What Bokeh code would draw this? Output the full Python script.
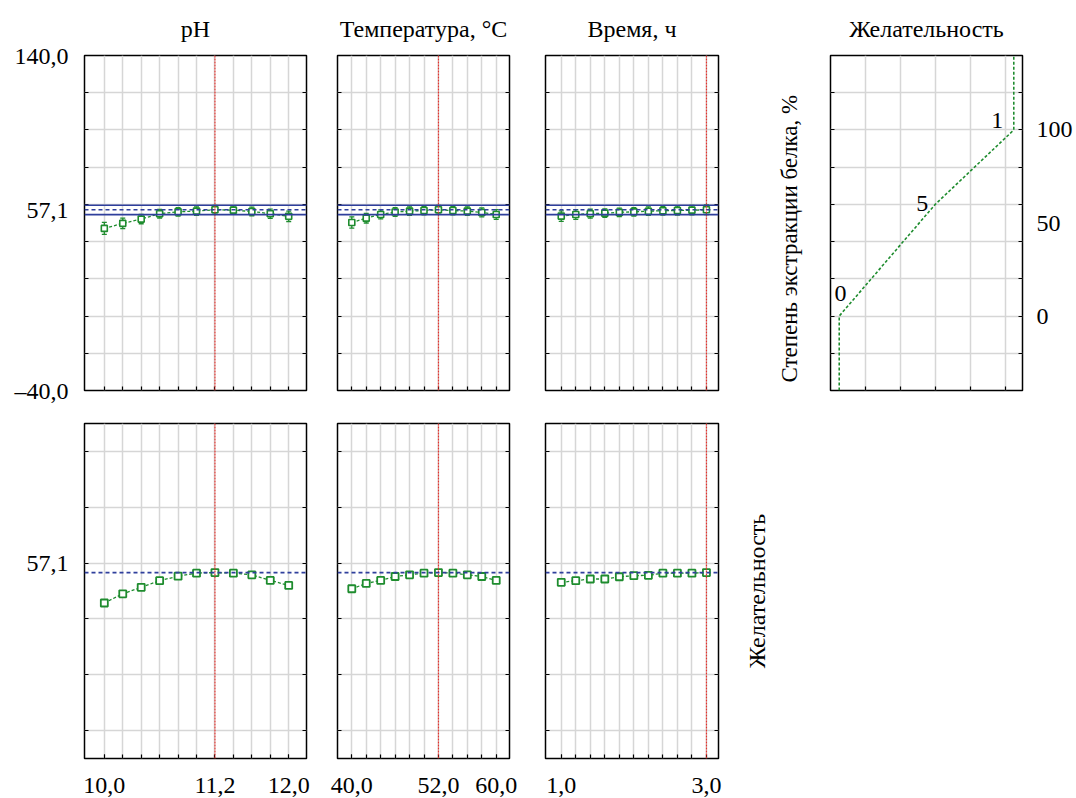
from bokeh.plotting import figure
from bokeh.layouts import row, column
from bokeh.models import (FixedTicker, LinearAxis, Span, Range1d, Whisker, ColumnDataSource,
                          CustomJSTickFormatter, Grid, TeeHead, Title)
from bokeh.core.properties import value
from bokeh.embed import file_html
from bokeh.resources import INLINE

# ---------------- data ----------------
ph = [10.0, 10.2, 10.4, 10.6, 10.8, 11.0, 11.2, 11.4, 11.6, 11.8, 12.0]
temp = [40.0, 42.0, 44.0, 46.0, 48.0, 50.0, 52.0, 54.0, 56.0, 58.0, 60.0]
time_h = [1.0, 1.2, 1.4, 1.6, 1.8, 2.0, 2.2, 2.4, 2.6, 2.8, 3.0]

ext_ph = [47.1, 49.8, 52.1, 55.0, 56.0, 56.4, 57.1, 56.9, 56.2, 55.0, 53.6]
err_ph = [3.2, 2.8, 2.5, 2.3, 2.3, 2.3, 2.3, 2.3, 2.3, 2.5, 2.8]
ext_temp = [50.3, 52.6, 54.6, 55.9, 56.4, 56.7, 57.1, 56.7, 56.4, 55.7, 54.6]
err_temp = [3.0, 2.6, 2.4, 2.3, 2.3, 2.3, 2.3, 2.3, 2.3, 2.4, 2.6]
ext_time = [53.7, 54.6, 55.0, 55.3, 55.7, 56.0, 56.35, 56.6, 56.7, 56.9, 57.1]
err_time = [2.8, 2.6, 2.4, 2.3, 2.3, 2.3, 2.3, 2.3, 2.4, 2.5, 2.6]

des_ph = [0.457, 0.490, 0.513, 0.537, 0.553, 0.564, 0.566, 0.564, 0.558, 0.538, 0.520]
des_temp = [0.508, 0.527, 0.538, 0.552, 0.558, 0.564, 0.566, 0.564, 0.558, 0.552, 0.538]
des_time = [0.531, 0.537, 0.543, 0.543, 0.551, 0.555, 0.556, 0.564, 0.564, 0.564, 0.566]

pred_ext = 57.1
ci_low, ci_high = 54.5, 59.5
des_max = 0.566
cur_ph, cur_temp, cur_time = 11.2, 52.0, 3.0

ph_labels = [10.0, 11.2, 12.0]
temp_labels = [40.0, 52.0, 60.0]
time_labels = [1.0, 3.0]
ext_labels = [-40.0, 57.1, 140.0]
ext_grid = [-40, -20, 0, 20, 40, 60, 80, 100, 120, 140]
des_grid = [0.0, 0.2, 0.4, 0.6, 0.8, 1.0]
des_label_tick = [0.6]

# desirability function (desirability vs extraction)
dfun_d = [0.0, 0.0, 0.55, 1.0, 1.0]
dfun_ext = [-40.0, 0.0, 60.0, 100.0, 140.0]
dnode_text = ["0", "5", "1"]
dnode_d = [0.007, 0.475, 0.905]
dnode_ext = [12.1, 60.6, 105.1]
dfun_grid_x = [0.15, 0.35, 0.55, 0.75, 0.95]
dfun_labels = [0, 50, 100]

titles = ["pH", "Температура, °С", "Время, ч", "Желательность"]
ylabel_ext = "Степень экстракции белка, %"
ylabel_des = "Желательность"

# ---------------- style ----------------
FONT = "Liberation Serif"
FS = "24px"
GRID = "#d6d6d6"
GREEN = "#1e8c2e"
BLUE = "#2f3f9c"
RED = "#e3342f"

fmt_num1 = CustomJSTickFormatter(code="return tick.toFixed(1).replace('.', ',').replace('-', '\u2013');")
fmt_int = CustomJSTickFormatter(code="return tick.toFixed(0);")
fmt_des = CustomJSTickFormatter(code="return '57,1';")


def style_title(t, standoff, size=FS):
    t.text_font = FONT
    t.text_font_size = size
    t.text_font_style = "normal"
    t.text_color = "black"
    t.standoff = standoff


def base(fw, fh, L, R, T, B, xr, yr, title=None):
    p = figure(frame_width=fw, frame_height=fh, min_border_left=L, min_border_right=R,
               min_border_top=T, min_border_bottom=B, x_range=Range1d(*xr), y_range=Range1d(*yr),
               toolbar_location=None, output_backend="svg", x_axis_type=None, y_axis_type=None,
               title=title)
    p.outline_line_color = "black"
    p.outline_line_width = 1.5
    p.background_fill_color = "white"
    p.border_fill_color = "white"
    if title:
        style_title(p.title, 24)
        p.title.align = "center"
        p.title.vertical_align = "top"
    return p


def grids(p, gx, gy):
    p.add_layout(Grid(dimension=0, ticker=FixedTicker(ticks=gx), grid_line_color=GRID, grid_line_width=1.5))
    p.add_layout(Grid(dimension=1, ticker=FixedTicker(ticks=gy), grid_line_color=GRID, grid_line_width=1.5))


def axis(p, place, major, minor, fmt=None, standoff=15, major_in=0):
    ax = LinearAxis(ticker=FixedTicker(ticks=major, minor_ticks=minor))
    if fmt is not None:
        ax.formatter = fmt
    ax.axis_line_color = None
    ax.major_tick_in = major_in
    ax.major_tick_out = 0
    ax.minor_tick_in = 4
    ax.minor_tick_out = 0
    ax.major_tick_line_color = "black"
    ax.minor_tick_line_color = "black"
    ax.minor_tick_line_width = 1.2
    ax.major_label_standoff = standoff
    ax.major_label_text_font = FONT
    ax.major_label_text_font_size = FS
    ax.major_label_text_color = "black"
    p.add_layout(ax, place)
    return ax


def top_panel(xs, ys, errs, cur, xr, fw, L, R, title, show_ylab):
    p = base(fw, 335, L, R, 55, 16, xr, (-40, 140), title)
    grids(p, xs, ext_grid)
    axis(p, "below", [], xs, standoff=0)
    if show_ylab:
        axis(p, "left", ext_labels, ext_grid, fmt_num1, standoff=16)
    else:
        axis(p, "left", [], ext_grid, standoff=0)
    axis(p, "right", [], ext_grid, standoff=0)
    p.add_layout(Span(location=cur, dimension="height", line_color=RED, line_width=1.2, line_dash="2 1"))
    p.add_layout(Span(location=ci_high, dimension="width", line_color=BLUE, line_width=1.6))
    p.add_layout(Span(location=ci_low, dimension="width", line_color=BLUE, line_width=1.6))
    p.add_layout(Span(location=pred_ext, dimension="width", line_color=BLUE, line_width=1.6, line_dash="4 3"))
    src = ColumnDataSource(dict(x=xs, y=ys, lo=[a - b for a, b in zip(ys, errs)], hi=[a + b for a, b in zip(ys, errs)]))
    p.line("x", "y", source=src, line_color=GREEN, line_width=1.3, line_dash="3 2")
    p.add_layout(Whisker(base="x", lower="lo", upper="hi", source=src, line_color=GREEN, line_width=1.3,
                         lower_head=TeeHead(size=5, line_color=GREEN, line_width=1.3),
                         upper_head=TeeHead(size=5, line_color=GREEN, line_width=1.3)))
    p.scatter("x", "y", source=src, marker="square", size=6, line_color=GREEN, line_width=1.6, fill_color="white")
    return p


def bottom_panel(xs, ds, cur, xr, fw, L, R, xlabels, show_ylab):
    p = base(fw, 335, L, R, 17, 40, xr, (-0.1, 1.1))
    grids(p, xs, des_grid)
    axis(p, "below", xlabels, xs, fmt_num1, standoff=19, major_in=4)
    if show_ylab:
        axis(p, "left", des_label_tick, des_grid, fmt_des, standoff=16)
    else:
        axis(p, "left", [], des_grid, standoff=0)
    axis(p, "right", [], des_grid, standoff=0)
    p.add_layout(Span(location=cur, dimension="height", line_color=RED, line_width=1.2, line_dash="2 1"))
    p.add_layout(Span(location=des_max, dimension="width", line_color=BLUE, line_width=1.6, line_dash="4 3"))
    src = ColumnDataSource(dict(x=xs, y=ds))
    p.line("x", "y", source=src, line_color=GREEN, line_width=1.3, line_dash="3 2")
    p.scatter("x", "y", source=src, marker="square", size=7, line_color=GREEN, line_width=1.8, fill_color="white")
    return p


XR_PH = (9.785, 12.193)
XR_T = (38.02, 61.84)
XR_TM = (0.783, 3.166)

f1 = top_panel(ph, ext_ph, err_ph, cur_ph, XR_PH, 222, 84, 14, titles[0], True)
f2 = top_panel(temp, ext_temp, err_temp, cur_temp, XR_T, 172, 17, 18, titles[1], False)
f3 = top_panel(time_h, ext_time, err_time, cur_time, XR_TM, 173, 18, 17, titles[2], False)

# desirability function panel
f4 = base(192, 335, 95, 54, 55, 16, (-0.05, 1.05), (-40, 140), titles[3])
grids(f4, dfun_grid_x, ext_grid)
axis(f4, "below", [], dfun_grid_x, standoff=0)
axis(f4, "right", dfun_labels, ext_grid, fmt_int, standoff=14)
axis(f4, "left", [], ext_grid, standoff=0)
t_ext = Title(text=ylabel_ext, align="left", offset=8)
style_title(t_ext, 58, "23px")
f4.add_layout(t_ext, "left")
f4.line(dfun_d, dfun_ext, line_color=GREEN, line_width=1.6, line_dash="3 2")
f4.text(dnode_d, dnode_ext, text=dnode_text, text_font=value(FONT), text_font_size=FS,
        text_align="center", text_baseline="middle", text_color="black")

f5 = bottom_panel(ph, des_ph, cur_ph, XR_PH, 222, 84, 14, ph_labels, True)
f6 = bottom_panel(temp, des_temp, cur_temp, XR_T, 172, 17, 18, temp_labels, False)
f7 = bottom_panel(time_h, des_time, cur_time, XR_TM, 173, 18, 17, time_labels, False)

# label figure for the desirability row
f8 = figure(frame_width=20, frame_height=335, min_border_left=39, min_border_right=0,
            min_border_top=17, min_border_bottom=40, x_range=Range1d(0, 1), y_range=Range1d(0, 1),
            toolbar_location=None, output_backend="svg", x_axis_type=None, y_axis_type=None,
            title=ylabel_des, title_location="left")
f8.outline_line_color = None
style_title(f8.title, 10)
f8.title.align = "center"

layout = column(row(f1, f2, f3, f4, spacing=0), row(f5, f6, f7, f8, spacing=0), spacing=0)

html = file_html(layout, INLINE)
html = html.replace("<head>", "<head><style>html,body{margin:0;padding:0;overflow:hidden;}</style>", 1)
open("out.html", "w").write(html)
